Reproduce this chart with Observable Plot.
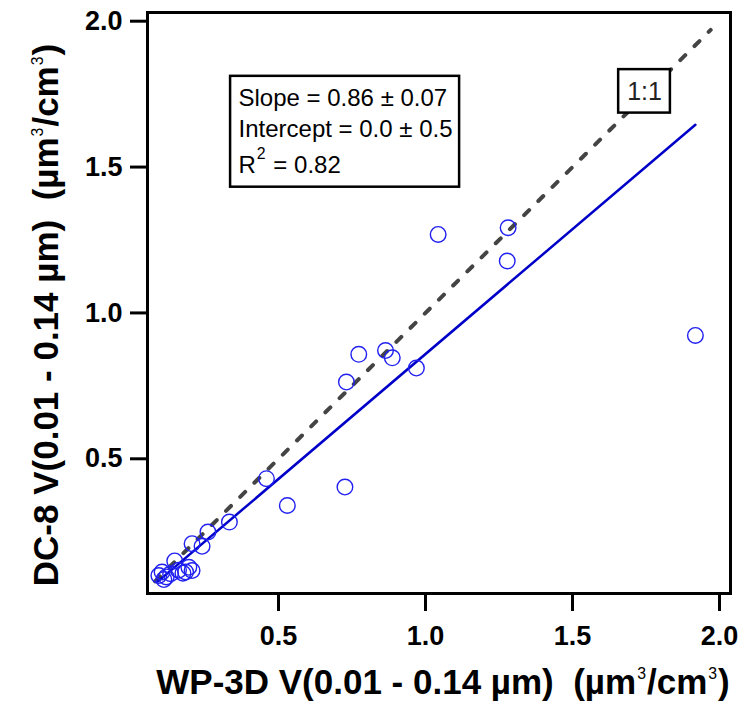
<!DOCTYPE html>
<html><head><meta charset="utf-8">
<script src="https://cdn.jsdelivr.net/npm/d3@7"></script>
<script src="https://cdn.jsdelivr.net/npm/@observablehq/plot@0.6"></script>
<style>body{margin:0;background:#fff}</style>
</head><body><div id="chart"></div>
<script>
// WP-3D (x) vs DC-8 (y) volume, µm³/cm³
const wp3dX = [0.093, 0.104, 0.110, 0.118, 0.133, 0.147, 0.160, 0.175, 0.184, 0.195, 0.206, 0.206, 0.240, 0.260, 0.333, 0.459, 0.530, 0.726, 0.731, 0.773, 0.864, 0.887, 0.969, 1.043, 1.278, 1.281, 1.918];
const dc8Y  = [0.100, 0.112, 0.086, 0.095, 0.106, 0.150, 0.118, 0.108, 0.112, 0.128, 0.117, 0.209, 0.200, 0.249, 0.283, 0.432, 0.340, 0.403, 0.763, 0.858, 0.871, 0.846, 0.811, 1.269, 1.178, 1.292, 0.923];
const xTicks = [0.5, 1.0, 1.5, 2.0];
const yTicks = [0.5, 1.0, 1.5, 2.0];
const oneToOneX = [0.08, 1.97];
const fitX = [0.09, 1.918];
const fitY = [0.08, 1.645];
const statsLines = ["Slope = 0.86 ± 0.07", "Intercept = 0.0 ± 0.5", "R² = 0.82"];
const oneToOneLabel = "1:1";
const xTitle = "WP-3D V(0.01 - 0.14 µm)  (µm³/cm³)";
const yTitle = "DC-8 V(0.01 - 0.14 µm)  (µm³/cm³)";

const points = wp3dX.map((x, i) => ({x, y: dc8Y[i]}));
const fitLine = fitX.map((x, i) => ({x, y: fitY[i]}));
const font = "'Liberation Sans', Arial, sans-serif";
const fmt = d3.format(".1f");

const plot = Plot.plot({
  width: 745, height: 702,
  marginLeft: 147, marginRight: 15, marginTop: 12, marginBottom: 109,
  style: {fontFamily: font, background: "#fff", color: "#000", overflow: "visible"},
  x: {domain: [0.0544, 2.0374]},
  y: {domain: [0.0383, 2.0298]},
  marks: [
    Plot.line(oneToOneX, {x: d => d, y: d => d, stroke: "#444", strokeWidth: 4, strokeDasharray: "7,13"}),
    Plot.line(fitLine, {x: "x", y: "y", stroke: "#0000c8", strokeWidth: 2.5}),
    Plot.dot(points, {x: "x", y: "y", r: 7.8, stroke: "#2020f0", strokeWidth: 1.4, fill: "none"}),
    // stats box
    Plot.rect([0], {x1: 0.337, x2: 1.116, y1: 1.431, y2: 1.811, fill: "white", stroke: "black", strokeWidth: 2.5}),
    Plot.text([statsLines[0]], {x: 0.364, y: 1.708, text: d => d, textAnchor: "start", lineAnchor: "bottom", fontSize: 24, fill: "#000"}),
    Plot.text([statsLines[1]], {x: 0.364, y: 1.602, text: d => d, textAnchor: "start", lineAnchor: "bottom", fontSize: 24, fill: "#000"}),
    Plot.text([statsLines[2]], {x: 0.364, y: 1.478, text: d => d, textAnchor: "start", lineAnchor: "bottom", fontSize: 24, fill: "#000"}),
    // 1:1 label box
    Plot.rect([0], {x1: 1.657, x2: 1.833, y1: 1.685, y2: 1.834, fill: "white", stroke: "black", strokeWidth: 2.5}),
    Plot.text([oneToOneLabel], {x: 1.745, y: 1.759, text: d => d, fontSize: 25, fill: "#222"}),
    // axes
    Plot.frame({stroke: "black", strokeWidth: 3}),
    Plot.axisX(xTicks, {tickSize: 18, tickPadding: 14, fontSize: 27, fontWeight: "bold", strokeWidth: 3, tickFormat: fmt, label: null}),
    Plot.axisY(yTicks, {tickSize: 17, tickPadding: 8, fontSize: 27, fontWeight: "bold", strokeWidth: 3, tickFormat: fmt, label: null}),
    Plot.text([xTitle], {frameAnchor: "bottom", textAnchor: "middle", dx: 4, dy: 100, lineAnchor: "bottom", fontSize: 35, fontWeight: "bold", text: d => d}),
    Plot.text([yTitle], {frameAnchor: "left", textAnchor: "middle", rotate: -90, dx: -90, dy: 12, lineAnchor: "bottom", fontSize: 35, fontWeight: "bold", text: d => d})
  ]
});

// superscripts as raised tspans
d3.select(plot).selectAll("text").each(function () {
  const s = this.textContent;
  if (!/[²³]/.test(s)) return;
  const fs = parseFloat(getComputedStyle(this).fontSize) || 24;
  const big = fs > 30;
  const sel = d3.select(this);
  sel.text(null);
  let raised = false;
  for (const p of s.split(/([²³])/)) {
    if (!p) continue;
    if (p === "²" || p === "³") {
      sel.append("tspan").attr("dy", -0.62 * fs).attr("dx", big ? 8 : 1)
        .attr("font-size", (big ? 0.68 : 0.66) * fs)
        .attr("font-weight", "normal").text(p === "²" ? "2" : "3");
      raised = true;
    } else {
      const t = sel.append("tspan").text(p);
      if (raised) { t.attr("dy", 0.62 * fs).attr("dx", big ? 7 : 1); raised = false; }
    }
  }
});

document.getElementById("chart").appendChild(plot);
</script>
</body></html>
